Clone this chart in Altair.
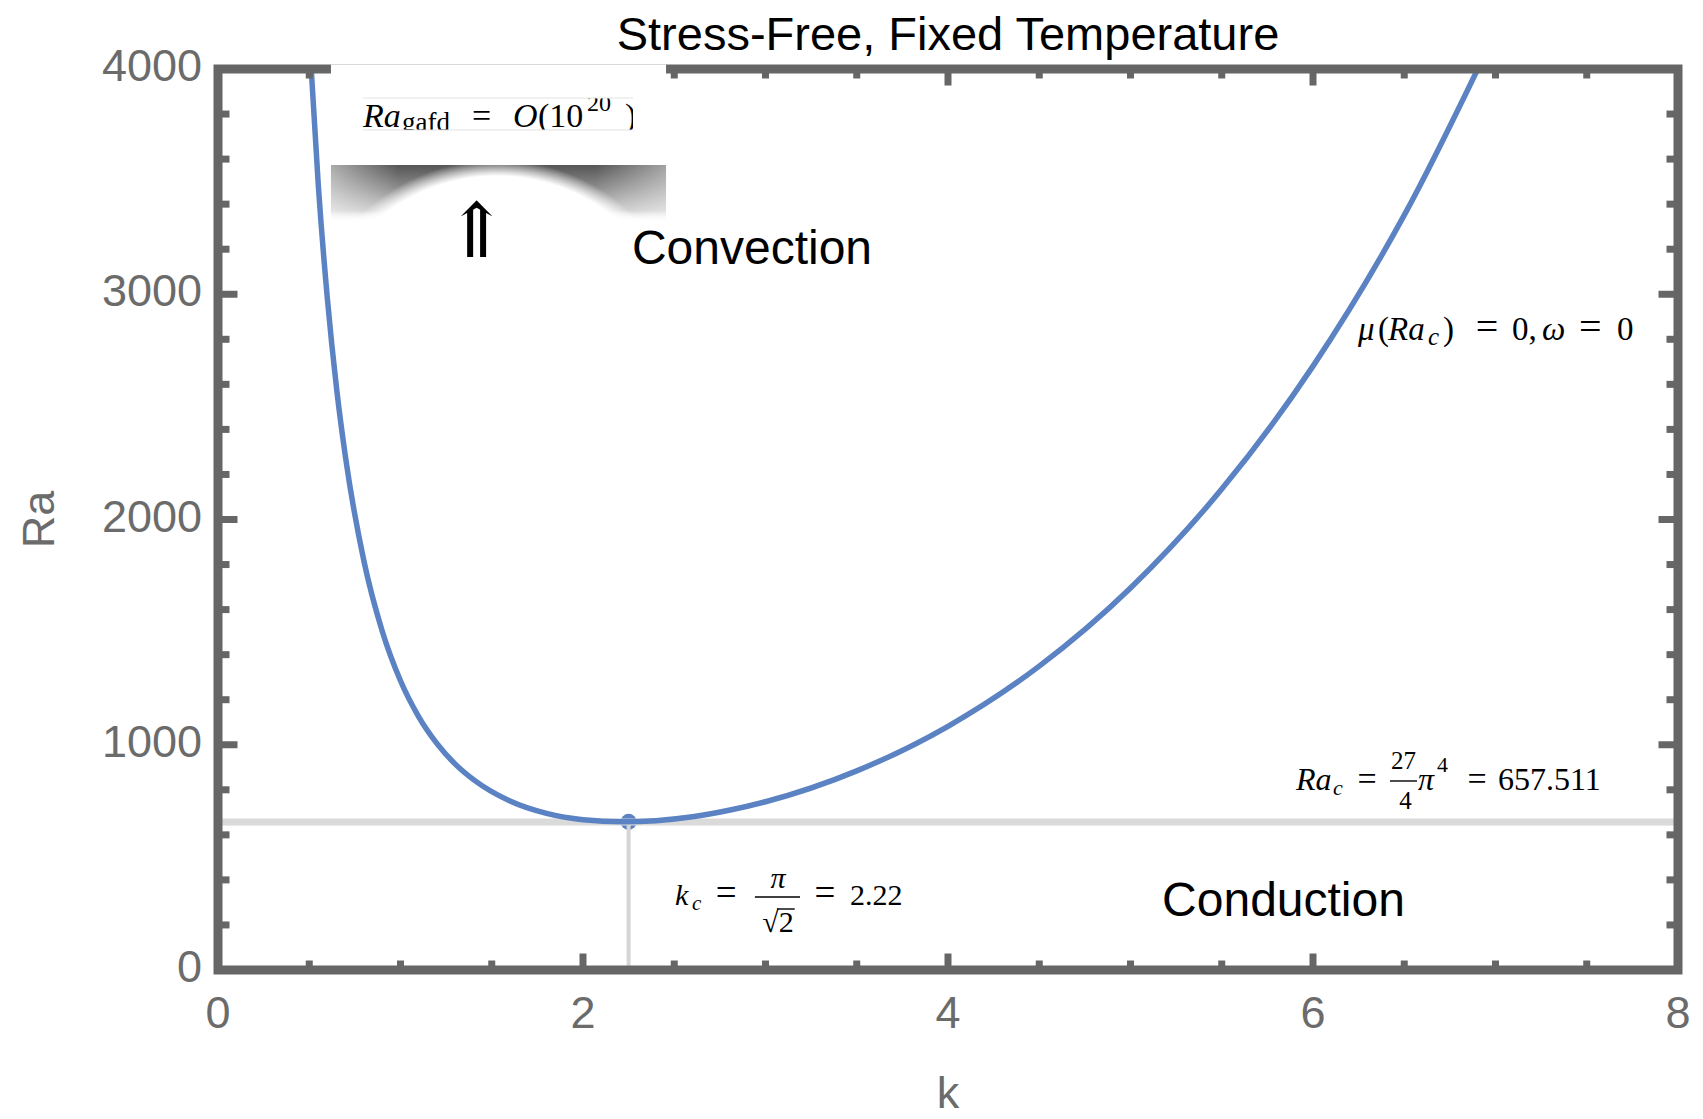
import altair as alt
import pandas as pd

# ---------------- data ----------------
k_vals = [0.50, 0.55, 0.60, 0.65, 0.70, 0.80, 0.90, 1.00, 1.10, 1.20, 1.30, 1.40,
          1.60, 1.80, 2.00, 2.22, 2.40, 2.60, 2.80, 3.00, 3.50, 4.00, 4.50, 5.00,
          5.50, 6.00, 6.50, 7.00]
ra_vals = [4145, 3479, 2974, 2580, 2269, 1814, 1504, 1284, 1124, 1005, 914, 845,
           750, 695, 667, 658, 663, 680, 709, 747, 884, 1082, 1349, 1696,
           2135, 2681, 3351, 4164]

kc_marker = 2.25
ra_c = 657.511

x_labels = [0, 2, 4, 6, 8]
y_labels = [0, 1000, 2000, 3000, 4000]
x_major = [2, 4, 6]
x_minor = [0.5, 1.0, 1.5, 2.5, 3.0, 3.5, 4.5, 5.0, 5.5, 6.5, 7.0, 7.5]
y_major = [1000, 2000, 3000]
y_minor = [200, 400, 600, 800, 1200, 1400, 1600, 1800, 2200, 2400, 2600, 2800,
           3200, 3400, 3600, 3800]

title_text = "Stress-Free, Fixed Temperature"
title_pos = (4.0, 4084.3)
x_title = "k"
y_title = "Ra"
y_title_pos = (-0.899, 2000.0)

# math annotation pieces: (k, Ra, text, font size, italic, align)
math_k = [6.247, 6.356, 6.411, 6.630, 6.712, 6.953, 7.090, 7.255, 7.520, 7.666,
          5.907, 6.110, 6.296, 6.496, 6.507, 6.575, 6.679, 6.899, 7.014,
          2.504, 2.597, 2.784, 3.068, 3.068, 3.325, 3.463,
          0.795, 1.008, 1.392, 1.616, 1.753, 2.022, 2.230]
math_ra = [2796.9, 2796.9, 2796.9, 2774.7, 2796.9, 2796.9, 2796.9, 2796.9, 2796.9, 2796.9,
           799.1, 776.9, 799.1, 892.3, 714.8, 799.1, 879.0, 799.1, 799.1,
           288.6, 266.4, 288.6, 364.0, 168.7, 288.6, 288.6,
           3742.5, 3724.7, 3742.5, 3742.5, 3742.5, 3813.5, 3742.5]
math_text = ["μ", "(", "Ra", "c", ")", "=", "0,", "ω", "=", "0",
             "Ra", "c", "=", "27", "4", "π", "4", "=", "657.511",
             "k", "c", "=", "π", "√2", "=", "2.22",
             "Ra", "gafd", "=", "O", "(10", "20", ")"]
math_size = [33, 33, 33, 25, 33, 40, 33, 33, 40, 33,
             32, 22, 34, 25, 25, 32, 22, 34, 32,
             30, 21, 37, 30, 30, 37, 30,
             34, 27, 34, 34, 34, 24, 34]
math_italic = [True, False, True, True, False, False, False, True, False, False,
               True, True, False, False, False, True, False, False, False,
               True, True, False, True, False, False, False,
               True, False, False, True, False, False, False]
math_align = ["left", "left", "left", "left", "left", "center", "left", "left", "center", "left",
              "left", "left", "center", "center", "center", "left", "left", "center", "left",
              "left", "left", "center", "center", "center", "center", "left",
              "left", "left", "left", "left", "left", "left", "left"]

# fraction bars / radical bar: (k start, k end, Ra)
bar_k1 = [6.422, 2.942, 3.063]
bar_k2 = [6.570, 3.189, 3.160]
bar_ra = [839.1, 324.1, 270.8]

# region labels
region_text = ["Convection", "Conduction"]
region_k = [2.268, 5.173]
region_ra = [3134.3, 239.7]

# arrow
arrow_k = [1.419]
arrow_ra = [3165.4]

# inset box (white) and its shadow, in data units
box_k = [0.619, 2.455]
box_ra = [3573.8, 4020.0]
shadow_k = [0.619, 2.455]
shadow_ra = [3320.7, 3573.8]
hole_k = [0.433, 2.625]
hole_ra = [1820.2, 3596.0]
side_k1 = [0.619, 2.066]
side_k2 = [0.989, 2.455]
# white masks that crop the pasted formula strip
mask_k1 = [0.70, 0.70, 2.274]
mask_k2 = [2.43, 2.43, 2.43]
mask_r1 = [3871.2, 3590.0, 3590.0]
mask_r2 = [4010.0, 3729.2, 4010.0]
strip_ra = [3871.2, 3729.2]
strip_k = [0.795, 2.274]

# ---------------- styling ----------------
BLUE = "#5b82c2"
FRAME = "#666666"
LABEL = "#6b6b6b"
W, H = 1460, 901

xs = alt.Scale(domain=[0, 8], nice=False, zero=False)
ys = alt.Scale(domain=[0, 4000], nice=False, zero=False)


def X(f):
    return alt.X(f, type="quantitative", scale=xs, axis=None)


def Y(f):
    return alt.Y(f, type="quantitative", scale=ys, axis=None)


def text_layer(ks, ras, texts, **mark):
    df = pd.DataFrame({"k": ks, "Ra": ras, "t": texts})
    return alt.Chart(df).mark_text(**mark).encode(x=X("k"), y=Y("Ra"), text="t:N")


def rect_layer(k1, k2, r1, r2, **mark):
    df = pd.DataFrame({"k": k1, "k2": k2, "Ra": r1, "Ra2": r2})
    return alt.Chart(df).mark_rect(**mark).encode(x=X("k"), x2="k2", y=Y("Ra"), y2="Ra2")


WHITE = "rgba(255,255,255,1)"
CLEAR = "rgba(255,255,255,0)"

layers = []

# shadow under inset box
layers.append(rect_layer([shadow_k[0]], [shadow_k[1]], [shadow_ra[1]], [shadow_ra[0]],
    color=alt.Gradient(gradient="linear",
                       stops=[alt.GradientStop(color="#555555", offset=0),
                              alt.GradientStop(color="#8c8c8c", offset=0.4),
                              alt.GradientStop(color="#c8c8c8", offset=0.8),
                              alt.GradientStop(color=CLEAR, offset=1)],
                       x1=0, x2=0, y1=0, y2=1)))
# lighter outer sides of the shadow
layers.append(rect_layer([side_k1[0]], [side_k2[0]], [shadow_ra[1]], [shadow_ra[0]],
    color=alt.Gradient(gradient="linear",
                       stops=[alt.GradientStop(color="rgba(255,255,255,0.5)", offset=0),
                              alt.GradientStop(color=CLEAR, offset=1)],
                       x1=0, x2=1, y1=0, y2=0)))
layers.append(rect_layer([side_k1[1]], [side_k2[1]], [shadow_ra[1]], [shadow_ra[0]],
    color=alt.Gradient(gradient="linear",
                       stops=[alt.GradientStop(color=CLEAR, offset=0),
                              alt.GradientStop(color="rgba(255,255,255,0.45)", offset=1)],
                       x1=0, x2=1, y1=0, y2=0)))
# white notch in the middle of the shadow
layers.append(rect_layer([hole_k[0]], [hole_k[1]], [hole_ra[0]], [hole_ra[1]],
    color=alt.Gradient(gradient="radial",
                       stops=[alt.GradientStop(color=WHITE, offset=0),
                              alt.GradientStop(color=WHITE, offset=0.92),
                              alt.GradientStop(color=CLEAR, offset=1)],
                       x1=0.5, y1=0.5, r1=0, x2=0.5, y2=0.5, r2=0.5)))

# critical point marker
pt_df = pd.DataFrame({"k": [kc_marker], "Ra": [ra_c]})
layers.append(alt.Chart(pt_df).mark_circle(size=260, color=BLUE, opacity=1)
              .encode(x=X("k"), y=Y("Ra")))

# gray reference lines
h_df = pd.DataFrame({"k": [0], "k2": [8], "Ra": [ra_c]})
layers.append(alt.Chart(h_df).mark_rule(color="#dadada", strokeWidth=7)
              .encode(x=X("k"), x2="k2", y=Y("Ra")))
v_df = pd.DataFrame({"k": [kc_marker], "Ra": [0], "Ra2": [ra_c]})
layers.append(alt.Chart(v_df).mark_rule(color="#d5d5d5", strokeWidth=4)
              .encode(x=X("k"), y=Y("Ra"), y2="Ra2"))

# main curve
curve_df = pd.DataFrame({"k": k_vals, "Ra": ra_vals})
layers.append(alt.Chart(curve_df).mark_line(color=BLUE, strokeWidth=5.5, clip=True,
                                            interpolate="monotone")
              .encode(x=X("k"), y=Y("Ra")))

# frame
layers.append(rect_layer([0], [8], [0], [4000], filled=False, stroke=FRAME, strokeWidth=9))


# ticks (inward)
def xticks(vals, base, off):
    df = pd.DataFrame({"k": vals, "Ra": [base] * len(vals)})
    return alt.Chart(df).mark_rule(color=FRAME, strokeWidth=7, y2Offset=off).encode(
        x=X("k"), y=Y("Ra"), y2="Ra")


def yticks(vals, base, off):
    df = pd.DataFrame({"Ra": vals, "k": [base] * len(vals)})
    return alt.Chart(df).mark_rule(color=FRAME, strokeWidth=7, x2Offset=off).encode(
        y=Y("Ra"), x=X("k"), x2="k")


layers += [xticks(x_major, 0, -16.5), xticks(x_minor, 0, -9.5),
           xticks(x_major, 4000, 16.5), xticks(x_minor, 4000, 9.5),
           yticks(y_major, 0, 19.5), yticks(y_minor, 0, 11.5),
           yticks(y_major, 8, -19.5), yticks(y_minor, 8, -11.5)]

# tick labels and axis titles
layers.append(text_layer(x_labels, [0] * len(x_labels), [str(v) for v in x_labels],
                         font="Liberation Sans", fontSize=45, color=LABEL,
                         align="center", baseline="alphabetic", dy=58))
layers.append(text_layer([0] * len(y_labels), y_labels, [str(v) for v in y_labels],
                         font="Liberation Sans", fontSize=45, color=LABEL,
                         align="right", baseline="alphabetic", dx=-16, dy=12))
layers.append(text_layer([4.0], [0], [x_title], font="Liberation Sans", fontSize=45,
                         color=LABEL, align="center", baseline="alphabetic", dy=138))
layers.append(text_layer([y_title_pos[0]], [y_title_pos[1]], [y_title],
                         font="Liberation Sans", fontSize=45, color=LABEL,
                         align="center", baseline="alphabetic", angle=270))
layers.append(text_layer([title_pos[0]], [title_pos[1]], [title_text],
                         font="Liberation Sans", fontSize=47, color="black",
                         align="center", baseline="alphabetic"))

# inset white box
layers.append(rect_layer([box_k[0]], [box_k[1]], [box_ra[0]], [box_ra[1]], color="white"))

# math pieces
for k, r, t, s, it, al in zip(math_k, math_ra, math_text, math_size, math_italic, math_align):
    layers.append(text_layer([k], [r], [t], font="Liberation Serif", fontSize=s,
                             fontStyle="italic" if it else "normal",
                             align=al, baseline="alphabetic", color="black"))

# masks cropping the formula strip
layers.append(rect_layer(mask_k1, mask_k2, mask_r1, mask_r2, color="white"))
strip_df = pd.DataFrame({"k": [strip_k[0]] * 2, "k2": [strip_k[1]] * 2, "Ra": strip_ra})
layers.append(alt.Chart(strip_df).mark_rule(color="#e2e2e2", strokeWidth=1)
              .encode(x=X("k"), x2="k2", y=Y("Ra")))

# fraction bars
bar_df = pd.DataFrame({"k": bar_k1, "k2": bar_k2, "Ra": bar_ra})
layers.append(alt.Chart(bar_df).mark_rule(color="black", strokeWidth=1.4)
              .encode(x=X("k"), x2="k2", y=Y("Ra")))

# region labels
layers.append(text_layer(region_k, region_ra, region_text, font="Liberation Sans",
                         fontSize=48, align="left", baseline="alphabetic", color="black"))

# arrow
layers.append(text_layer(arrow_k, arrow_ra, ["⇑"], font="DejaVu Serif", fontSize=76,
                         align="center", baseline="alphabetic", color="black"))

chart = alt.layer(*layers).properties(
    width=W, height=H,
    padding={"left": 218, "top": 69, "right": 25, "bottom": 149},
    autosize=alt.AutoSizeParams(type="none"),
).configure_view(strokeWidth=0).configure(background="white")

chart.save("out.html", embed_options={"renderer": "svg", "actions": False})
